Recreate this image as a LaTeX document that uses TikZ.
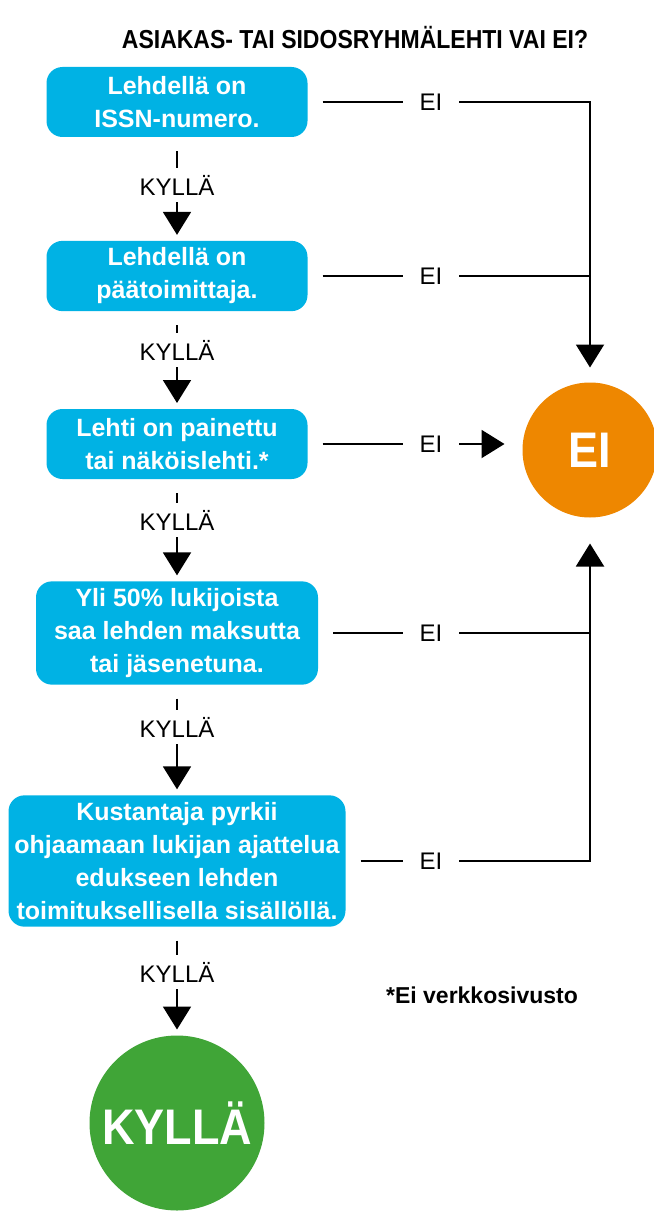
\documentclass[tikz,border=0pt]{standalone}
\usepackage{fontspec}
\setmainfont{Liberation Sans}
\newfontfamily\narrowsans[FakeStretch=0.9]{Liberation Sans}
\newfontfamily\titlesans[FakeStretch=0.885]{Liberation Sans}
\usetikzlibrary{arrows.meta}
\definecolor{boxblue}{RGB}{0,178,228}
\definecolor{eiorange}{RGB}{238,135,0}
\definecolor{kyllagreen}{RGB}{64,165,55}

\begin{document}
\begin{tikzpicture}[x=1pt, y=-1pt, line width=2pt,
    question/.style={fill=boxblue, rounded corners=16pt, text=white, align=center,
      font=\fontsize{25}{33}\selectfont\bfseries, inner ysep=7pt, minimum height=70pt},
    answer/.style={inner xsep=16pt, inner ysep=6pt, font=\fontsize{24}{28}\selectfont},
    result/.style={circle, text=white, font=\narrowsans\fontsize{50}{50}\selectfont\bfseries},
    yes/.style={-{Triangle[width=28pt,length=23pt]}}]
  \useasboundingbox (0,0) rectangle (653,1212);

  \node[font=\titlesans\fontsize{26}{30}\selectfont\bfseries] (title) at (355,38) {ASIAKAS- TAI SIDOSRYHMÄLEHTI VAI EI?};

  % kysymykset
  \node[question, minimum width=261pt] (q1) at (177,102) {Lehdellä on\\ISSN-numero.};
  \node[question, minimum width=261pt] (q2) at (177,276) {Lehdellä on\\päätoimittaja.};
  \node[question, minimum width=261pt] (q3) at (177,444) {Lehti on painettu\\tai näköislehti.*};
  \node[question, minimum width=282pt] (q4) at (177,633) {Yli 50\% lukijoista\\saa lehden maksutta\\tai jäsenetuna.};
  \node[question, minimum width=337pt] (q5) at (177,861) {Kustantaja pyrkii\\ohjaamaan lukijan ajattelua\\edukseen lehden\\toimituksellisella sisällöllä.};

  \node[result, fill=kyllagreen, minimum size=175pt] (kylla) at (177,1123) {KYLLÄ};
  \node[result, fill=eiorange, minimum size=135pt] (ei) at (590,450) {EI};

  \node[font=\fontsize{23}{28}\selectfont\bfseries] (note) at (482,995) {*Ei verkkosivusto};

  % KYLLÄ-haarat
  \foreach \a/\y/\k/\b in {q1/185/k1/q2, q2/350/k2/q3, q3/520/k3/q4, q4/727/k4/q5, q5/972/k5/kylla} {
    \node[answer] (\k) at (177,\y) {KYLLÄ};
    \draw[shorten <=13pt] (\a) -- (\k);
    \draw[yes, shorten >=5pt] (\k) -- (\b);
  }

  % EI-haarat
  \foreach \a/\k in {q1/e1, q2/e2, q3/e3, q4/e4, q5/e5} {
    \node[answer] (\k) at (\a -| 431,0) {EI};
    \draw[shorten <=14pt] (\a) -- (\k);
  }
  \draw[yes, shorten >=14pt] (e1) -| (ei);
  \draw (e2) -- (e2 -| ei);
  \draw[yes, shorten >=17pt] (e3) -- (e3 -| ei.west);
  \draw (e4) -- (e4 -| ei);
  \draw[yes, shorten >=25pt] (e5) -| (ei);
\end{tikzpicture}
\end{document}
